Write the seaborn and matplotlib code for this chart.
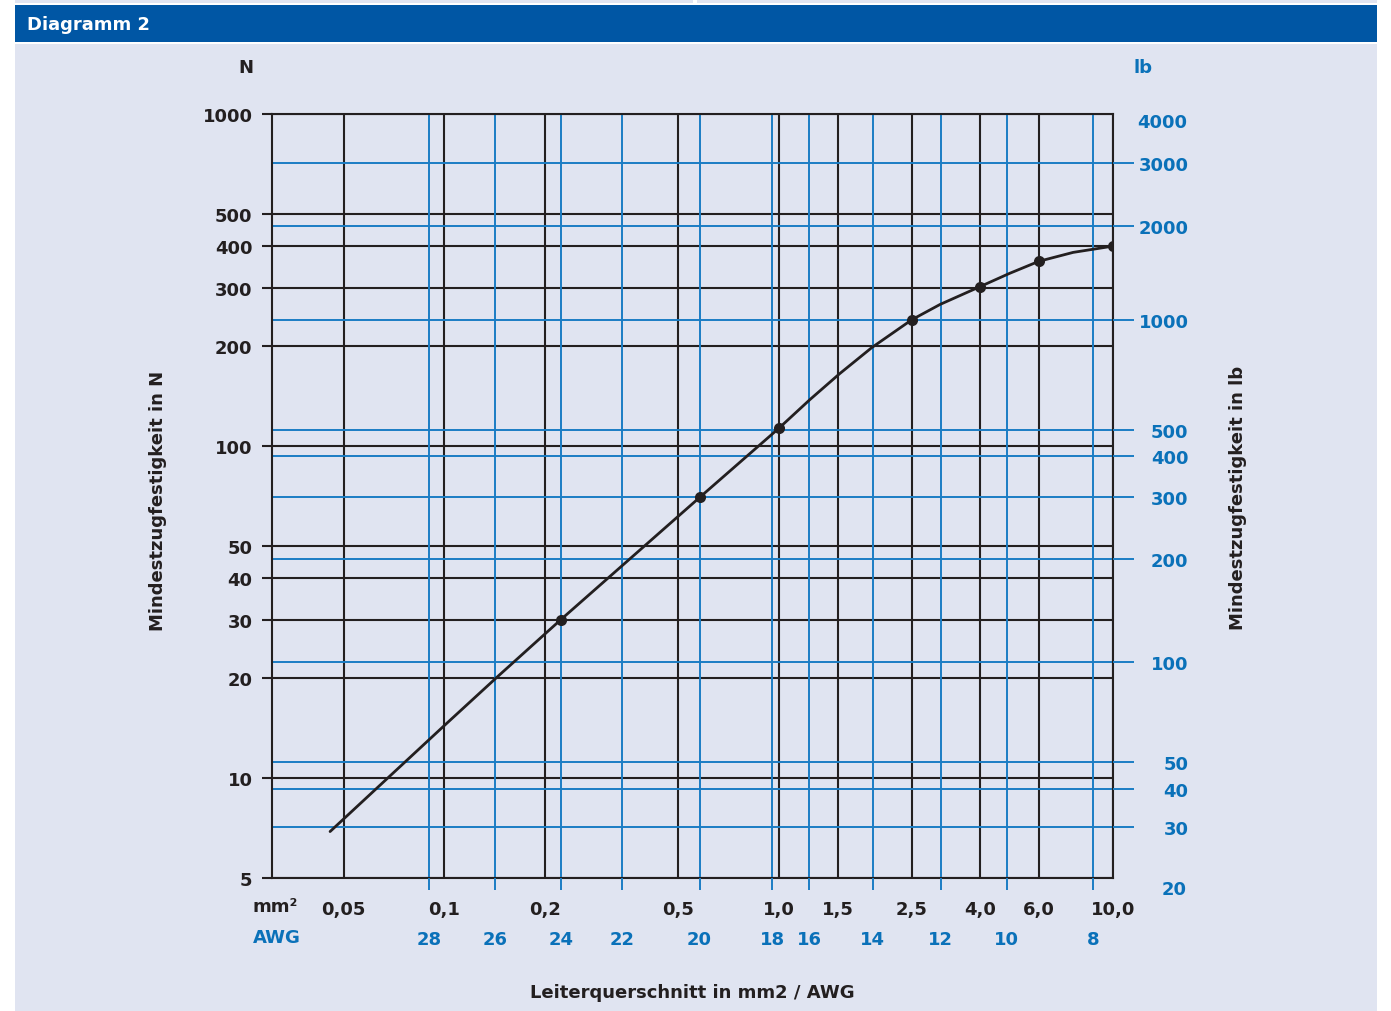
import matplotlib
matplotlib.use("Agg")
import matplotlib.pyplot as plt
from matplotlib.patches import Rectangle
from matplotlib.ticker import NullLocator
import seaborn as sns

# mm² cross sections (black grid lines)
mm2_ticks = [0.05, 0.1, 0.2, 0.5, 1.0, 1.5, 2.5, 4.0, 6.0, 10.0]
mm2_labels = ["0,05", "0,1", "0,2", "0,5", "1,0", "1,5", "2,5", "4,0", "6,0", "10,0"]

# AWG sizes (blue grid lines) and the mm² value they sit at on the chart
awg_labels = ["28", "26", "24", "22", "20", "18", "16", "14", "12", "10", "8"]
awg_mm2 = [0.090, 0.142, 0.223, 0.34, 0.58, 0.955, 1.235, 1.91, 3.05, 4.81, 8.73]

# left axis, N
n_ticks = [5, 10, 20, 30, 40, 50, 100, 200, 300, 400, 500, 1000]

# right axis, lb, and the N level each blue line sits at
lb_labels = ["3000", "2000", "1000", "500", "400", "300", "200", "100", "50", "40", "30"]
lb_in_n = [710, 461, 239, 112, 93.4, 70.1, 45.8, 22.3, 11.2, 9.24, 7.10]
lb_top_label, lb_top_n = "4000", 959
lb_bottom_label, lb_bottom_n = "20", 4.7

# curve
curve_mm2 = [0.0455, 0.1, 0.145, 0.223, 0.58, 1.0, 1.24, 1.52, 1.9, 2.5, 3.04, 4.0, 4.9, 6.0, 7.6, 10.0]
curve_n = [6.9, 14.4, 20.3, 30, 70, 113, 138, 165, 198, 240, 267, 302, 331, 360, 383, 400]

# marked points
point_mm2 = [0.223, 0.58, 1.0, 2.5, 4.0, 6.0, 10.0]
point_n = [30, 70, 113, 240, 302, 360, 400]

BG = "#e0e4f1"
BAR = "#0056a4"
BLUE_LINE = "#1b7dc4"
BLUE_TEXT = "#0a71b9"
INK = "#231f20"

sns.set_style("white")
plt.rcParams["font.family"] = ["DejaVu Sans"]
plt.rcParams["font.weight"] = "bold"
plt.rcParams["font.size"] = 13

W, H = 1391, 1012
fig = plt.figure(figsize=(W / 100, H / 100), dpi=100, facecolor="white")


def box(x0, y0, x1, y1):
    # pixel box (from top-left) -> figure fraction [l, b, w, h]
    return [x0 / W, 1 - y1 / H, (x1 - x0) / W, (y1 - y0) / H]


for x0, y0, x1, y1, c in [(15, 45, 1377, 1012, BG), (15, 0, 693, 4, BG),
                          (697, 0, 1377, 4, BG), (15, 6, 1377, 43, BAR)]:
    l, b, w, h = box(x0, y0, x1, y1)
    fig.add_artist(Rectangle((l, b), w, h, transform=fig.transFigure,
                             color=c, lw=0, zorder=-10))

ax = fig.add_axes(box(272, 115, 1113, 879))
ax.set_facecolor(BG)

sns.lineplot(x=curve_mm2, y=curve_n, ax=ax, color=INK, lw=2.0, zorder=5)
sns.scatterplot(x=point_mm2, y=point_n, ax=ax, color=INK, s=64,
                linewidth=0, zorder=6)

ax.set_xscale("log")
ax.set_yscale("log")
ax.set_xlim(0.0305, 10.0)
ax.set_ylim(5, 1000)
ax.set_xticks(mm2_ticks, mm2_labels)
ax.set_yticks(n_ticks, [str(v) for v in n_ticks])
ax.xaxis.set_minor_locator(NullLocator())
ax.yaxis.set_minor_locator(NullLocator())
ax.grid(True, which="major", color=INK, lw=1.5)
ax.set_axisbelow(True)
for v in lb_in_n:
    ax.axhline(v, color=BLUE_LINE, lw=1.4, zorder=1)
for v in awg_mm2:
    ax.axvline(v, color=BLUE_LINE, lw=1.4, zorder=1)
for s in ax.spines.values():
    s.set_color(INK)
    s.set_linewidth(1.5)
ax.tick_params(axis="y", left=True, length=7.2, width=1.5, color=INK,
               pad=6.8, labelcolor=INK, labelsize=13)
ax.tick_params(axis="x", bottom=True, length=0, pad=16, labelcolor=INK,
               labelsize=13)
ax.set_xlabel("")
ax.set_ylabel("")

# right axis: lb
ax2 = ax.twinx()
ax2.set_yscale("log")
ax2.set_ylim(5, 1000)
ax2.set_yticks(lb_in_n, lb_labels)
ax2.yaxis.set_minor_locator(NullLocator())
ax2.tick_params(axis="y", right=True, length=14.8, width=1.4, color=BLUE_LINE,
                labelcolor=BLUE_TEXT, pad=39.6, labelsize=13)
for lab in ax2.get_yticklabels():
    lab.set_horizontalalignment("right")
for s in ax2.spines.values():
    s.set_visible(False)
for lab, v in [(lb_top_label, lb_top_n), (lb_bottom_label, lb_bottom_n)]:
    ax2.text((1187 - 272) / 841, v, lab, transform=ax2.get_yaxis_transform(),
             ha="right", va="center_baseline", color=BLUE_TEXT, fontsize=13,
             fontweight="bold")

# second bottom row: AWG
ax3 = ax.twiny()
ax3.set_xscale("log")
ax3.set_xlim(0.0305, 10.0)
ax3.set_xticks(awg_mm2, awg_labels)
ax3.xaxis.set_minor_locator(NullLocator())
ax3.xaxis.set_ticks_position("bottom")
ax3.tick_params(axis="x", bottom=True, top=False, labelbottom=True,
                labeltop=False, length=8.6, width=1.4, color=BLUE_LINE,
                labelcolor=BLUE_TEXT, pad=28.8, labelsize=13)
for s in ax3.spines.values():
    s.set_visible(False)

fig.text(27 / W, 1 - 25 / H, "Diagramm 2", color="white", ha="left", va="center")
fig.text(246 / W, 1 - 68 / H, "N", color=INK, ha="center", va="center")
fig.text(1143 / W, 1 - 68 / H, "lb", color=BLUE_TEXT, ha="center", va="center")
fig.text(158 / W, 1 - 501 / H, "Mindestzugfestigkeit in N", color=INK,
         rotation=90, ha="center", va="center")
fig.text(1238 / W, 1 - 498 / H, "Mindestzugfestigkeit in lb", color=INK,
         rotation=90, ha="center", va="center")
fig.text(692 / W, 1 - 993 / H, "Leiterquerschnitt in mm2 / AWG", color=INK,
         ha="center", va="center")
fig.text(252 / W, 1 - 907 / H, "mm²", color=INK, ha="left", va="center")
fig.text(253 / W, 1 - 938 / H, "AWG", color=BLUE_TEXT, ha="left", va="center")

fig.savefig("out.png", dpi=100)
